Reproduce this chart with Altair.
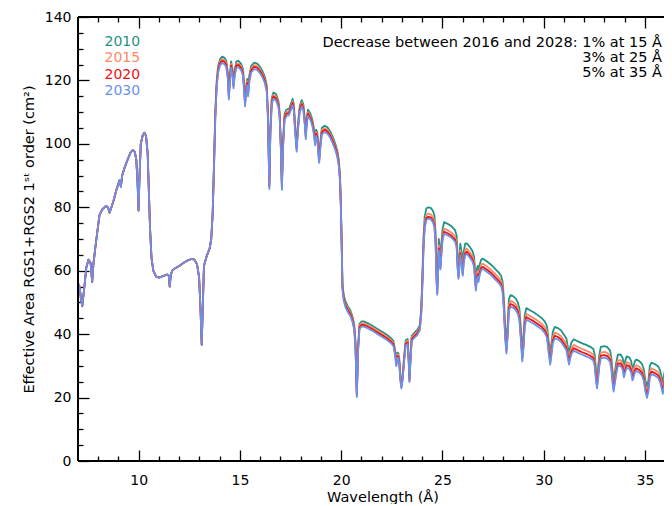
import altair as alt
import pandas as pd

# ---------------- data ----------------
wavelength = [
    7.00, 7.08, 7.14, 7.21, 7.30, 7.41, 7.52, 7.62, 7.70, 7.76,
    7.85, 7.95, 8.06, 8.20, 8.38, 8.48, 8.56, 8.65, 8.75, 8.90,
    9.05, 9.12, 9.18, 9.30, 9.45, 9.60, 9.70, 9.80, 9.88, 9.94,
    9.99, 10.04, 10.10, 10.20, 10.28, 10.36, 10.44, 10.50, 10.56, 10.63,
    10.72, 10.85, 11.00, 11.20, 11.40, 11.48, 11.53, 11.58, 11.65, 11.80,
    12.00, 12.20, 12.40, 12.60, 12.75, 12.88, 12.98, 13.05, 13.11, 13.17,
    13.22, 13.35, 13.50, 13.58, 13.65,
    13.72, 13.78, 13.85, 13.92, 14.02, 14.12, 14.22, 14.32, 14.40, 14.45,
    14.50, 14.56, 14.62, 14.68, 14.74, 14.82, 14.92, 15.05, 15.15, 15.22,
    15.25, 15.30, 15.36, 15.40, 15.46, 15.55, 15.70, 15.85, 16.00, 16.12,
    16.22, 16.32, 16.38, 16.45, 16.50, 16.57, 16.65, 16.78, 16.90, 16.96,
    17.02, 17.07, 17.12, 17.20, 17.30, 17.42, 17.52, 17.60, 17.66, 17.72,
    17.80, 17.86, 17.95, 18.05, 18.13, 18.20, 18.25, 18.30, 18.36, 18.48,
    18.58, 18.66, 18.71, 18.76, 18.82, 18.88, 18.91, 18.96, 19.04, 19.18,
    19.32, 19.45, 19.58, 19.70, 19.80, 19.88, 19.94, 19.98, 20.02,
    20.06, 20.12, 20.20, 20.32, 20.45, 20.56,
    20.64, 20.70, 20.77, 20.83, 20.90, 21.00, 21.10, 21.30, 21.50, 21.75,
    22.00, 22.25, 22.45, 22.58, 22.66, 22.72, 22.77, 22.82, 22.87, 22.92,
    22.97, 23.03, 23.10, 23.18, 23.28, 23.33, 23.37, 23.42, 23.48, 23.62,
    23.75, 23.88, 23.95,
    24.00, 24.06, 24.12, 24.20, 24.30, 24.42, 24.52, 24.60, 24.66, 24.71,
    24.74, 24.78, 24.82, 24.87, 24.90, 24.94, 25.00, 25.08, 25.25, 25.45,
    25.62, 25.70, 25.75, 25.79, 25.83, 25.88, 25.94, 26.00, 26.05, 26.12,
    26.20, 26.35, 26.48, 26.56, 26.60, 26.65, 26.70, 26.74, 26.78, 26.84,
    26.92, 27.00, 27.20, 27.40, 27.60, 27.78, 27.90, 27.97,
    28.03, 28.10, 28.16, 28.22, 28.28, 28.36, 28.48, 28.62, 28.72, 28.80,
    28.87, 28.94, 29.00, 29.06, 29.14, 29.30, 29.50, 29.70, 29.90, 30.05,
    30.16, 30.24, 30.32, 30.38, 30.45, 30.55, 30.70, 30.85, 31.00, 31.12,
    31.19, 31.25, 31.31, 31.38, 31.48, 31.70, 31.90, 32.10, 32.30, 32.45,
    32.52, 32.58, 32.63, 32.68, 32.74, 32.82, 33.00, 33.14, 33.28, 33.35,
    33.41, 33.45, 33.50, 33.58, 33.66, 33.80, 33.90, 33.96, 34.02, 34.10,
    34.22, 34.32, 34.38, 34.42, 34.50, 34.58, 34.72, 34.85, 34.94, 35.02,
    35.10, 35.17, 35.24, 35.32, 35.50, 35.66, 35.75, 35.82, 35.88, 35.94,
    36.00, 36.10, 36.30, 36.50,
]

# below ~13.7 A the four curves lie on top of each other
area_common = [
    56.0, 55.0, 51.5, 48.8, 54.0, 61.0, 63.5, 62.5, 56.5, 62.0,
    67.0, 72.0, 77.5, 79.3, 80.4, 80.0, 78.3, 80.0, 82.0, 85.5,
    88.5, 86.5, 90.0, 92.5, 95.0, 97.3, 98.0, 97.5, 95.0, 88.0,
    79.0, 90.0, 100.0, 102.8, 103.5, 102.5, 97.0, 85.0, 73.0, 64.0,
    60.0, 58.2, 57.8, 58.3, 58.8, 58.5, 55.0, 58.5, 60.0, 60.8,
    61.5, 62.4, 63.2, 63.7, 63.5, 62.0, 58.0, 48.0, 36.7, 50.0,
    61.5, 64.5, 67.0, 70.0, 78.0,
]

area_2010 = area_common + [
    95.0, 110.0, 120.0, 124.5, 126.8, 127.5, 127.2, 126.3, 122.5, 116.0,
    121.5, 126.0, 124.0, 119.5, 123.5, 126.0, 126.2, 125.3, 123.5, 117.0,
    113.8, 118.0, 120.5, 117.0, 121.5, 124.5, 125.6, 125.3, 124.2, 122.8,
    121.3, 118.5, 110.0, 87.8, 105.0, 114.5, 116.2, 115.7, 113.5, 110.0,
    100.0, 87.5, 100.0, 109.5, 110.8, 111.0, 112.8, 114.2, 112.5, 106.0,
    99.5, 106.0, 112.0, 113.8, 112.5, 108.0, 103.5, 108.5, 110.8, 109.5,
    107.5, 104.5, 101.5, 104.5, 103.5, 98.0, 96.0, 100.0, 105.0, 105.7,
    105.2, 104.0, 102.2, 100.2, 98.0, 95.0, 90.0, 82.0, 70.0,
    56.0, 52.5, 50.5, 48.8, 47.5, 45.5,
    43.0, 38.0, 21.8, 36.0, 43.2, 44.0, 44.0, 43.5, 42.8, 41.8,
    40.8, 39.8, 38.8, 37.8, 35.0, 31.5, 34.2, 34.0, 32.0, 27.0,
    24.5, 27.0, 32.5, 38.0, 38.5, 33.0, 26.5, 33.0, 39.5, 40.5,
    41.3, 42.8, 48.0,
    57.0, 70.0, 77.0, 79.6, 80.0, 79.8, 79.0, 77.5, 72.0, 60.0,
    56.0, 62.0, 70.0, 66.0, 64.0, 68.0, 73.0, 75.3, 74.8, 74.0,
    72.8, 71.0, 64.0, 61.0, 64.0, 68.5, 66.0, 62.0, 66.0, 68.5,
    68.6, 67.5, 66.2, 64.5, 61.0, 57.0, 60.5, 61.5, 59.8, 62.0,
    63.6, 63.8, 62.9, 61.9, 60.6, 59.4, 58.3, 56.5,
    51.5, 42.0, 37.5, 43.0, 51.0, 52.3, 52.0, 51.2, 50.0, 48.0,
    42.0, 35.0, 39.0, 45.8, 48.2, 47.6, 46.9, 46.0, 45.1, 44.0,
    42.5, 38.0, 34.0, 37.0, 40.8, 42.3, 41.9, 41.2, 39.8, 38.6,
    36.0, 34.0, 36.0, 37.5, 38.4, 37.7, 37.1, 36.6, 36.0, 35.3,
    33.5, 29.0, 26.5, 29.0, 33.2, 36.0, 36.2, 35.9, 34.8, 32.0,
    27.5, 25.5, 27.5, 31.0, 33.5, 33.6, 32.5, 30.0, 31.5, 33.0,
    32.7, 31.5, 29.0, 29.5, 31.5, 32.0, 31.5, 30.6, 29.0, 25.5,
    23.5, 25.5, 30.0, 31.0, 30.5, 29.8, 28.5, 26.5, 24.8, 27.0,
    29.3, 29.0, 28.4, 28.0,
]

area_2015 = area_common + [
    94.2, 109.2, 119.2, 123.7, 126.0, 126.7, 126.4, 125.5, 121.7, 115.2,
    120.7, 125.2, 123.2, 118.7, 122.7, 125.2, 125.4, 124.5, 122.7, 116.2,
    113.0, 117.2, 119.7, 116.2, 120.7, 123.7, 124.8, 124.5, 123.4, 122.0,
    120.5, 117.7, 109.2, 87.0, 104.2, 113.7, 115.4, 114.9, 112.7, 109.2,
    99.2, 86.7, 99.2, 108.7, 110.0, 110.2, 112.0, 113.4, 111.7, 105.2,
    98.7, 105.2, 111.2, 113.0, 111.7, 107.2, 102.7, 107.7, 110.0, 108.7,
    106.7, 103.7, 100.7, 103.7, 102.7, 97.2, 95.2, 99.2, 104.2, 104.9,
    104.4, 103.2, 101.4, 99.4, 97.2, 94.2, 89.2, 81.2, 69.2,
    55.3, 51.8, 49.8, 48.1, 46.8, 44.8,
    42.4, 37.4, 21.2, 35.4, 42.6, 43.4, 43.4, 42.9, 42.2, 41.2,
    40.2, 39.2, 38.2, 37.2, 34.4, 30.9, 33.6, 33.4, 31.4, 26.4,
    23.9, 26.4, 31.9, 37.4, 37.9, 32.4, 25.9, 32.4, 38.9, 39.9,
    40.7, 42.2, 47.2,
    55.6, 68.2, 75.0, 77.6, 78.0, 77.8, 77.0, 75.5, 70.0, 58.0,
    54.0, 60.0, 68.0, 64.0, 62.0, 66.0, 71.0, 73.3, 72.8, 72.0,
    70.8, 69.0, 62.0, 59.0, 62.0, 66.5, 64.0, 60.0, 64.0, 66.5,
    67.0, 65.9, 64.6, 62.9, 59.4, 55.4, 58.9, 59.9, 58.2, 60.4,
    62.0, 62.2, 61.3, 60.3, 59.0, 57.8, 56.7, 54.9,
    49.7, 40.2, 35.7, 41.2, 49.2, 50.5, 50.2, 49.4, 48.2, 46.2,
    40.2, 33.2, 37.2, 44.0, 46.4, 45.8, 45.1, 44.2, 43.3, 42.2,
    40.7, 36.2, 32.2, 35.2, 39.0, 40.5, 40.1, 39.4, 38.0, 36.8,
    34.2, 32.2, 34.2, 35.7, 36.6, 35.9, 35.3, 34.8, 34.2, 33.5,
    31.7, 27.2, 24.7, 27.2, 31.4, 34.2, 34.4, 34.1, 33.0, 30.2,
    25.7, 23.7, 25.7, 29.2, 31.7, 31.8, 30.7, 28.2, 29.7, 31.2,
    30.9, 29.7, 27.2, 27.7, 29.7, 30.2, 29.7, 28.8, 27.2, 23.7,
    21.7, 23.7, 28.2, 29.2, 28.7, 28.0, 26.7, 24.7, 23.0, 25.2,
    27.5, 27.2, 26.6, 26.2,
]

area_2020 = area_common + [
    93.7, 108.7, 118.7, 123.2, 125.5, 126.2, 125.9, 125.0, 121.2, 114.7,
    120.2, 124.7, 122.7, 118.2, 122.2, 124.7, 124.9, 124.0, 122.2, 115.7,
    112.5, 116.7, 119.2, 115.7, 120.2, 123.2, 124.3, 124.0, 122.9, 121.5,
    120.0, 117.2, 108.7, 86.5, 103.7, 113.2, 114.9, 114.4, 112.2, 108.7,
    98.7, 86.2, 98.7, 108.2, 109.5, 109.7, 111.5, 112.9, 111.2, 104.7,
    98.2, 104.7, 110.7, 112.5, 111.2, 106.7, 102.2, 107.2, 109.5, 108.2,
    106.2, 103.2, 100.2, 103.2, 102.2, 96.7, 94.7, 98.7, 103.7, 104.4,
    103.9, 102.7, 100.9, 98.9, 96.7, 93.7, 88.7, 80.7, 68.7,
    54.8, 51.3, 49.3, 47.6, 46.3, 44.3,
    41.9, 36.9, 20.7, 34.9, 42.1, 42.9, 42.9, 42.4, 41.7, 40.7,
    39.7, 38.7, 37.7, 36.7, 33.9, 30.4, 33.1, 32.9, 30.9, 25.9,
    23.4, 25.9, 31.4, 36.9, 37.4, 31.9, 25.4, 31.9, 38.4, 39.4,
    40.2, 41.7, 46.6,
    54.6, 67.1, 74.0, 76.6, 77.0, 76.8, 76.0, 74.5, 69.0, 57.0,
    53.0, 59.0, 67.0, 63.0, 61.0, 65.0, 70.0, 72.3, 71.8, 71.0,
    69.8, 68.0, 61.0, 58.0, 61.0, 65.5, 63.0, 59.0, 63.0, 65.5,
    66.0, 64.9, 63.6, 61.9, 58.4, 54.4, 57.9, 58.9, 57.2, 59.4,
    61.0, 61.2, 60.3, 59.3, 58.0, 56.8, 55.7, 53.9,
    48.7, 39.2, 34.7, 40.2, 48.2, 49.5, 49.2, 48.4, 47.2, 45.2,
    39.2, 32.2, 36.2, 43.0, 45.4, 44.8, 44.1, 43.2, 42.3, 41.2,
    39.7, 35.2, 31.2, 34.2, 38.0, 39.5, 39.1, 38.4, 37.0, 35.8,
    33.2, 31.2, 33.2, 34.7, 35.6, 34.9, 34.3, 33.8, 33.2, 32.5,
    30.7, 26.2, 23.7, 26.2, 30.4, 33.2, 33.4, 33.1, 32.0, 29.2,
    24.7, 22.7, 24.7, 28.2, 30.7, 30.8, 29.7, 27.2, 28.7, 30.2,
    29.9, 28.7, 26.2, 26.7, 28.7, 29.2, 28.7, 27.8, 26.2, 22.7,
    20.7, 22.7, 27.2, 28.2, 27.7, 27.0, 25.7, 23.7, 22.0, 24.2,
    26.5, 26.2, 25.6, 25.2,
]

area_2030 = area_common + [
    93.0, 108.0, 118.0, 122.5, 124.8, 125.5, 125.2, 124.3, 120.5, 114.0,
    119.5, 124.0, 122.0, 117.5, 121.5, 124.0, 124.2, 123.3, 121.5, 115.0,
    111.8, 116.0, 118.5, 115.0, 119.5, 122.5, 123.6, 123.3, 122.2, 120.8,
    119.3, 116.5, 108.0, 85.8, 103.0, 112.5, 114.2, 113.7, 111.5, 108.0,
    98.0, 85.5, 98.0, 107.5, 108.8, 109.0, 110.8, 112.2, 110.5, 104.0,
    97.5, 104.0, 110.0, 111.8, 110.5, 106.0, 101.5, 106.5, 108.8, 107.5,
    105.5, 102.5, 99.5, 102.5, 101.5, 96.0, 94.0, 98.0, 103.0, 103.7,
    103.2, 102.0, 100.2, 98.2, 96.0, 93.0, 88.0, 80.0, 68.0,
    54.2, 50.7, 48.7, 47.0, 45.7, 43.7,
    41.4, 36.4, 20.2, 34.4, 41.6, 42.4, 42.4, 41.9, 41.2, 40.2,
    39.2, 38.2, 37.2, 36.2, 33.4, 29.9, 32.6, 32.4, 30.4, 25.4,
    22.9, 25.4, 30.9, 36.4, 36.9, 31.4, 24.9, 31.4, 37.9, 38.9,
    39.7, 41.2, 46.0,
    54.0, 66.5, 73.4, 76.0, 76.4, 76.2, 75.4, 73.9, 68.4, 56.4,
    52.4, 58.4, 66.4, 62.4, 60.4, 64.4, 69.4, 71.7, 71.2, 70.4,
    69.2, 67.4, 60.4, 57.4, 60.4, 64.9, 62.4, 58.4, 62.4, 64.9,
    65.3, 64.2, 62.9, 61.2, 57.7, 53.7, 57.2, 58.2, 56.5, 58.7,
    60.3, 60.5, 59.6, 58.6, 57.3, 56.1, 55.0, 53.2,
    47.9, 38.4, 33.9, 39.4, 47.4, 48.7, 48.4, 47.6, 46.4, 44.4,
    38.4, 31.4, 35.4, 42.2, 44.6, 44.0, 43.3, 42.4, 41.5, 40.4,
    38.9, 34.4, 30.4, 33.4, 37.2, 38.7, 38.3, 37.6, 36.2, 35.0,
    32.4, 30.4, 32.4, 33.9, 34.8, 34.1, 33.5, 33.0, 32.4, 31.7,
    29.9, 25.4, 22.9, 25.4, 29.6, 32.4, 32.6, 32.3, 31.2, 28.4,
    23.9, 21.9, 23.9, 27.4, 29.9, 30.0, 28.9, 26.4, 27.9, 29.4,
    29.1, 27.9, 25.4, 25.9, 27.9, 28.4, 27.9, 27.0, 25.4, 21.9,
    19.9, 21.9, 26.4, 27.4, 26.9, 26.2, 24.9, 22.9, 21.2, 23.4,
    25.7, 25.4, 24.8, 24.4,
]

years = ["2010", "2015", "2020", "2030"]
year_colors = ["#1f9486", "#ff8866", "#ee1111", "#6a92ea"]
series = [area_2010, area_2015, area_2020, area_2030]

x_major = [10, 15, 20, 25, 30, 35]
x_minor = [8, 9, 11, 12, 13, 14, 16, 17, 18, 19, 21, 22, 23, 24,
           26, 27, 28, 29, 31, 32, 33, 34]
y_major = [0, 20, 40, 60, 80, 100, 120, 140]
y_minor = [5, 10, 15, 25, 30, 35, 45, 50, 55, 65, 70, 75, 85, 90, 95,
           105, 110, 115, 125, 130, 135]
y_frame = [0, 140]          # y-range ends, where the frame lines sit
x_frame = [7.0]             # x-range start, where the left frame line sits
note_lines = ["Decrease between 2016 and 2028: 1% at 15 Å",
              "3% at 25 Å",
              "5% at 35 Å"]

for s in series:
    assert len(s) == len(wavelength), (len(s), len(wavelength))

rows = []
for yr, vals in zip(years, series):
    for w, a in zip(wavelength, vals):
        rows.append({"wavelength": w, "area": a, "year": yr})
df = pd.DataFrame(rows)
anchor = pd.DataFrame({"wavelength": [7.0], "area": [0.0]})
frame_h = pd.DataFrame({"area": y_frame})
frame_v = pd.DataFrame({"wavelength": x_frame})

# ---------------- chart ----------------
FONT = "DejaVu Sans"
W, H = 586, 444
xs = alt.Scale(domain=[7, 35.94], nice=False, zero=False)
ys = alt.Scale(domain=[0, 140], nice=False, zero=False)

base_axis = dict(labelFont=FONT, labelFontSize=14, labelColor="black",
                 tickColor="black", tickWidth=1.3, grid=False, domain=False,
                 labelOverlap=False, titleFont=FONT, titleFontSize=14.5,
                 titleFontWeight="normal", titleColor="black")

lines = alt.Chart(df).mark_line(strokeWidth=1.8, clip=True, strokeJoin="round").encode(
    x=alt.X("wavelength:Q", scale=xs,
            axis=alt.Axis(orient="bottom", values=x_major, format="d", tickSize=11, offset=-11,
                          labelPadding=12, labelFlush=False,
                          title="Wavelength (Å)", titleX=304.5, titleY=47,
                          titleBaseline="middle", titleAlign="center", **base_axis)),
    y=alt.Y("area:Q", scale=ys,
            axis=alt.Axis(orient="left", values=y_major, format="d", tickSize=11, offset=-11,
                          labelPadding=7,
                          title="Effective Area RGS1+RGS2 1ˢᵗ order (cm²)",
                          titleX=-59.5, titleY=222, titleAngle=270,
                          titleBaseline="middle", titleAlign="center", **base_axis)),
    color=alt.Color("year:N", scale=alt.Scale(domain=years, range=year_colors), legend=None),
)

minor = alt.Chart(anchor).mark_point(opacity=0).encode(
    x=alt.X("wavelength:Q", scale=xs,
            axis=alt.Axis(orient="bottom", values=x_minor, tickSize=5, offset=-5, labels=False,
                          title=None, **base_axis)),
    y=alt.Y("area:Q", scale=ys,
            axis=alt.Axis(orient="left", values=y_minor, tickSize=5, offset=-5, labels=False,
                          title=None, **base_axis)),
)

top_major = alt.Chart(anchor).mark_point(opacity=0).encode(
    x=alt.X("wavelength:Q", scale=xs,
            axis=alt.Axis(orient="top", values=x_major, tickSize=11, offset=-11,
                          labels=False, title=None, **base_axis)),
    y=alt.Y("area:Q", scale=ys, axis=None),
)

top_minor = alt.Chart(anchor).mark_point(opacity=0).encode(
    x=alt.X("wavelength:Q", scale=xs,
            axis=alt.Axis(orient="top", values=x_minor, tickSize=5, offset=-5,
                          labels=False, title=None, **base_axis)),
    y=alt.Y("area:Q", scale=ys, axis=None),
)

# plot frame on the left, bottom and top (the right side is cut off in the original)
frame_left = alt.Chart(frame_v).mark_rule(color="black", strokeWidth=2).encode(
    x=alt.X("wavelength:Q", scale=xs, axis=None))
frame_tb = alt.Chart(frame_h).mark_rule(color="black", strokeWidth=2).encode(
    y=alt.Y("area:Q", scale=ys, axis=None))

texts = []
for yr, col, yy in zip(years, year_colors, [24.5, 41.0, 57.5, 74.0]):
    texts.append(alt.Chart(anchor).mark_text(
        text=yr, align="left", baseline="middle", font=FONT, fontSize=14, color=col
    ).encode(x=alt.value(26.5), y=alt.value(yy)))

for line, yy in zip(note_lines, [26.3, 41.3, 56.3]):
    texts.append(alt.Chart(anchor).mark_text(
        text=line, align="right", baseline="middle", font=FONT, fontSize=14.5, color="black"
    ).encode(x=alt.value(584), y=alt.value(yy)))

chart = (
    alt.layer(lines, minor, top_major, top_minor, frame_left, frame_tb, *texts)
    .resolve_axis(x="independent", y="independent")
    .properties(width=W, height=H,
                padding={"left": 70, "top": 9, "right": 0, "bottom": 43},
                autosize=alt.AutoSizeParams(type="none"),
                background="white")
    .configure_view(stroke=None)
)

chart.save("out.html", embed_options={"renderer": "svg", "actions": False})
